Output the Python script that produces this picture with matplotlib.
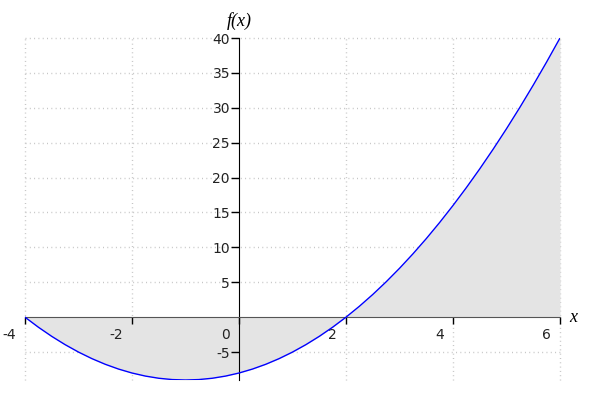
import matplotlib
matplotlib.use("Agg")
import matplotlib.pyplot as plt
import matplotlib.transforms as mtransforms

plt.rcParams['axes.unicode_minus'] = False
plt.rcParams['font.family'] = 'DejaVu Sans'

# points
xs = [-4, -3.75, -3.5, -3.25, -3, -2.75, -2.5, -2.25, -2, -1.75, -1.5, -1.25,
      -1, -0.75, -0.5, -0.25, 0, 0.25, 0.5, 0.75, 1, 1.25, 1.5, 1.75,
      2, 2.25, 2.5, 2.75, 3, 3.25, 3.5, 3.75, 4, 4.25, 4.5, 4.75,
      5, 5.25, 5.5, 5.75, 6]
ys = [0, -1.4375, -2.75, -3.9375, -5, -5.9375, -6.75, -7.4375, -8, -8.4375, -8.75, -8.9375,
      -9, -8.9375, -8.75, -8.4375, -8, -7.4375, -6.75, -5.9375, -5, -3.9375, -2.75, -1.4375,
      0, 1.5625, 3.25, 5.0625, 7, 9.0625, 11.25, 13.5625, 16, 18.5625, 21.25, 24.0625,
      27, 30.0625, 33.25, 36.5625, 40]

x_ticks = [-4, -2, 0, 2, 4, 6]
y_ticks = [-5, 5, 10, 15, 20, 25, 30, 35, 40]

fig = plt.figure(figsize=(6, 4), dpi=100)
ax = fig.add_axes([25/600, 20/400, 535/600, 342/400])
ax.set_xlim(-4, 6)
ax.set_ylim(-9, 40)

# grid
grid_style = dict(color='#c4c4c4', lw=1, ls=(0, (0.7, 2.4)), zorder=0, clip_on=False)
for gx in [-4, -2, 2, 4, 6]:
    ax.axvline(gx, **grid_style)
for gy in y_ticks:
    ax.axhline(gy, **grid_style)

ax.fill_between(xs, ys, 0, color='#e4e4e4', lw=0, zorder=1)
ax.plot(xs, ys, color='blue', lw=1, zorder=3)

for s in ['top', 'right']:
    ax.spines[s].set_visible(False)
ax.spines['left'].set_position(('data', 0))
ax.spines['bottom'].set_position(('data', 0))
ax.spines['bottom'].set_color('#555555')
ax.spines['left'].set_color('black')
ax.spines['bottom'].set_zorder(2)
ax.spines['left'].set_zorder(2)

ax.set_xticks(x_ticks)
ax.set_xticklabels([str(t) for t in x_ticks])
ax.set_yticks(y_ticks)
ax.set_yticklabels([str(t) for t in y_ticks])
ax.tick_params(axis='x', direction='out', length=5, width=1, color='black',
               labelsize=10, pad=3, labelcolor='#222222')
ax.tick_params(axis='y', direction='out', length=5.5, width=1, color='black',
               labelsize=10, pad=1, labelcolor='#222222')

offset = mtransforms.ScaledTranslation(-9/100, 0, fig.dpi_scale_trans)
for lab in ax.get_xticklabels():
    lab.set_horizontalalignment('right')
    lab.set_transform(lab.get_transform() + offset)

ax.text(0, 40, 'f(x)', family='Liberation Serif', style='italic', fontsize=13,
        ha='center', va='bottom', transform=ax.transData + mtransforms.ScaledTranslation(0, 8/100, fig.dpi_scale_trans))
ax.text(6, 0, 'x', family='Liberation Serif', style='italic', fontsize=13,
        ha='left', va='center', transform=ax.transData + mtransforms.ScaledTranslation(9/100, 0, fig.dpi_scale_trans))

fig.savefig('out.png', dpi=100)
